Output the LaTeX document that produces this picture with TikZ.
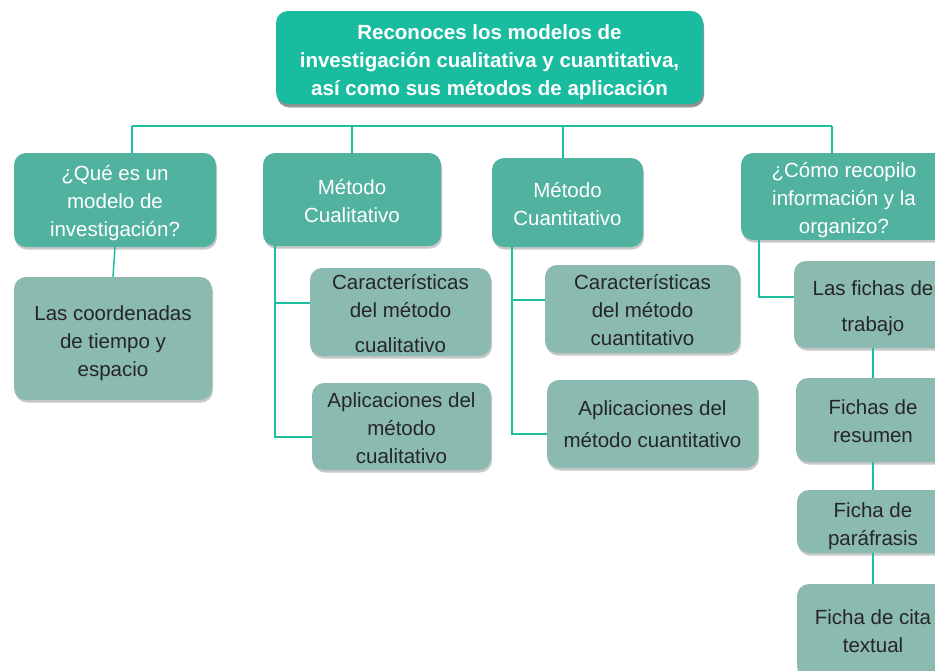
\documentclass[tikz,border=0pt]{standalone}
\usepackage{fontspec}
\setmainfont{Liberation Sans}
\usetikzlibrary{shadows}
\definecolor{titlefill}{HTML}{1ABC9F}
\definecolor{lvlone}{HTML}{52B2A0}
\definecolor{lvltwo}{HTML}{8BBAB0}
\definecolor{linkc}{HTML}{1DBFA0}
\definecolor{darktext}{HTML}{262626}
\tikzset{
  basebox/.style={rounded corners=12pt, inner sep=0pt,
    drop shadow={shadow xshift=1pt, shadow yshift=-2.5pt, opacity=0.3, fill=black!70}},
  titlebox/.style={basebox, fill=titlefill,
    drop shadow={shadow xshift=1pt, shadow yshift=-3.5pt, opacity=0.45, fill=black!70}},
  onebox/.style={basebox, fill=lvlone},
  twobox/.style={basebox, fill=lvltwo},
  basetext/.style={inner sep=0pt, align=center, font=\fontsize{20.5}{28}\selectfont},
  titletext/.style={basetext, text=white, font=\fontsize{20.5}{28}\selectfont\bfseries},
  onetext/.style={basetext, text=white},
  twotext/.style={basetext, text=darktext},
  link/.style={draw=linkc, line width=2pt}
}
\begin{document}
\begin{tikzpicture}[x=1pt,y=-1pt]
\useasboundingbox (0,0) rectangle (935,670);
\clip (0,0) rectangle (935,670);
\fill[white] (0,0) rectangle (935,670);

% title
\node[titlebox, minimum width=427pt, minimum height=93pt] (title) at (489.5,57.5) {};
\node[titletext] (title-t) at ([yshift=-5pt]title.center)
  {Reconoces los modelos de\\investigación cualitativa y cuantitativa,\\así como sus métodos de aplicación};

% level one
\node[onebox, minimum width=202pt, minimum height=94pt] (q) at (115,200) {};
\node[onetext] (q-t) at ([yshift=-3pt]q.center) {¿Qué es un\\modelo de\\investigación?};
\node[onebox, minimum width=178pt, minimum height=93pt] (mc) at (352,199.5) {};
\node[onetext] (mc-t) at ([yshift=-2pt]mc.center) {Método\\Cualitativo};
\node[onebox, minimum width=151pt, minimum height=89pt] (mq) at (567.5,202.5) {};
\node[onetext] (mq-t) at ([yshift=-2pt]mq.center) {Método\\Cuantitativo};
\node[onebox, minimum width=206pt, minimum height=87pt] (cr) at (844,196.5) {};
\node[onetext] (cr-t) at ([yshift=-4pt]cr.center) {¿Cómo recopilo\\información y la\\organizo?};

% level two
\node[twobox, minimum width=198pt, minimum height=123pt] (lc) at (113,338.5) {};
\node[twotext] (lc-t) at ([yshift=-5pt]lc.center) {Las coordenadas\\de tiempo y\\espacio};
\node[twobox, minimum width=181pt, minimum height=88pt] (cc) at (400.5,312) {};
\node[twotext] (cc-t) at ([yshift=-2pt]cc.center) {Características\\del método\\[7pt]cualitativo};
\node[twobox, minimum width=179pt, minimum height=87pt] (ac) at (401.5,426.5) {};
\node[twotext] (ac-t) at ([yshift=-2pt]ac.center) {Aplicaciones del\\método\\cualitativo};
\node[twobox, minimum width=195pt, minimum height=88pt] (cq) at (642.5,309) {};
\node[twotext] (cq-t) at ([yshift=-1pt]cq.center) {Características\\del método\\cuantitativo};
\node[twobox, minimum width=211pt, minimum height=88pt] (aq) at (652.5,424) {};
\node[twotext] (aq-t) at (aq.center) {Aplicaciones del\\[4pt]método cuantitativo};
\node[twobox, minimum width=158pt, minimum height=87pt] (ft) at (873,304.5) {};
\node[twotext] (ft-t) at ([yshift=-4pt]ft.center) {Las fichas de\\[8pt]trabajo};
\node[twobox, minimum width=154pt, minimum height=84pt] (fr) at (873,420) {};
\node[twotext] (fr-t) at ([yshift=-1pt]fr.center) {Fichas de\\resumen};
\node[twobox, minimum width=152pt, minimum height=63pt] (fp) at (873,521.5) {};
\node[twotext] (fp-t) at ([yshift=-5pt]fp.center) {Ficha de\\paráfrasis};
\node[twobox, minimum width=152pt, minimum height=94pt] (fc) at (873,631) {};
\node[twotext] (fc-t) at ([yshift=0pt]fc.center) {Ficha de cita\\textual};

% top bus
\coordinate (busL) at (132,126);
\coordinate (busR) at (832,126);
\coordinate (bus2) at (352,126);
\coordinate (bus3) at (563,126);
\draw[link] (busL) -- (busR);
\draw[link] (busL) -- (busL |- q.north);
\draw[link] (bus2) -- (bus2 |- mc.north);
\draw[link] (bus3) -- (bus3 |- mq.north);
\draw[link] (busR) -- (busR |- cr.north);

% question -> coordinates
\draw[link, line width=1.5pt] (q.south) -- (lc.north);

% branch end points
\coordinate (ccin) at ([yshift=9pt]cc.west);
\coordinate (acin) at ([yshift=-10pt]ac.west);
\coordinate (cqin) at ([yshift=9pt]cq.west);
\coordinate (aqin) at ([yshift=-10pt]aq.west);
\coordinate (ftin) at ([yshift=7.5pt]ft.west);

% cualitativo branch
\coordinate (v1) at (275,0);
\draw[link] (v1 |- mc.south) -- (v1 |- acin) -- (acin);
\draw[link] (v1 |- ccin) -- (ccin);

% cuantitativo branch
\coordinate (v2) at (512,0);
\draw[link] (v2 |- mq.south) -- (v2 |- aqin) -- (aqin);
\draw[link] (v2 |- cqin) -- (cqin);

% right column
\coordinate (v3) at (759,0);
\draw[link] (v3 |- cr.south) -- (v3 |- ftin) -- (ftin);
\draw[link, line width=1.5pt] (ft.south) -- (fr.north);
\draw[link, line width=1.5pt] (fr.south) -- (fp.north);
\draw[link, line width=1.5pt] (fp.south) -- (fc.north);
\end{tikzpicture}
\end{document}
